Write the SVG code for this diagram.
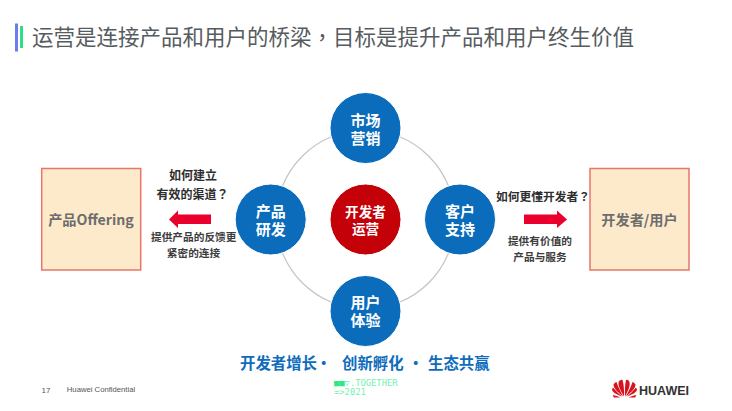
<svg xmlns="http://www.w3.org/2000/svg" width="732" height="411" viewBox="0 0 732 411">
<style>
text{font-family:"Noto Sans CJK SC","Liberation Sans",sans-serif;text-anchor:middle}
.hub{fill:#0a6cba;stroke:#fff;stroke-width:1}
.hubt{fill:#fff;font-size:15px;font-weight:700}
.midt{fill:#fff;font-size:13.600px;font-weight:700}
.box{fill:#fdeacb;stroke:#e8746c;stroke-width:1.5}
.boxt{fill:#6d6d6d;font-size:14.200px;font-weight:700}
.q{fill:#2e2e2e;font-size:12px;font-weight:700}
.qr{font-size:11.750px}
.a{fill:#3d3d3d;font-size:10.700px;font-weight:700}
.arrow{fill:#e9002c}
.ring{fill:none;stroke:#c4c4c4;stroke-width:1.2}
.tc{font-family:"Noto Sans CJK TC",sans-serif}
.tag{fill:#0e6cbc;font-size:15.400px;font-weight:700;text-anchor:start}
.foot{font-family:"Liberation Sans",sans-serif;fill:#555}
.dev{font-family:"DejaVu Sans Mono",monospace;font-size:8.800px;fill:#72f2b2;text-anchor:start}
</style>
<rect width="732" height="411" fill="#fff"/>
<g id="title">
<rect x="15" y="23.500" width="3" height="28" fill="#6a7cf0"/>
<rect x="20" y="26" width="3" height="22" fill="#2fdc8a"/>
<text x="32" y="45" style="text-anchor:start;font-size:21.500px" fill="#565b60">运营是连接产品和用户的桥梁<tspan class="tc">，</tspan>目标是提升产品和用户终生价值</text>
</g>
<g id="connectors">
<circle class="ring" cx="365.500" cy="219.500" r="89.500"/>
<path class="arrow" d="M211 214.500H178V210.500L169 219.500L178 228V224H211Z"/>
<path class="arrow" d="M524 214.500H557V210.500L567 219.500L557 228V224H524Z"/>
</g>
<g id="node-market"><circle class="hub" cx="365.500" cy="128" r="35.500"/><text class="hubt"><tspan x="365.500" y="125.500">市场</tspan><tspan x="365.500" y="144">营销</tspan></text></g>
<g id="node-product"><circle class="hub" cx="270.700" cy="219.500" r="35.500"/><text class="hubt"><tspan x="270.700" y="216.500">产品</tspan><tspan x="270.700" y="235">研发</tspan></text></g>
<g id="node-support"><circle class="hub" cx="460" cy="219.500" r="35.500"/><text class="hubt"><tspan x="460" y="216.500">客户</tspan><tspan x="460" y="235">支持</tspan></text></g>
<g id="node-ux"><circle class="hub" cx="365.500" cy="311" r="35.500"/><text class="hubt"><tspan x="365.500" y="307.500">用户</tspan><tspan x="365.500" y="326">体验</tspan></text></g>
<g id="node-center"><circle cx="365.500" cy="219.500" r="35.500" fill="#c40009" stroke="#fff"/><text class="midt"><tspan x="365.500" y="217">开发者</tspan><tspan x="365.500" y="233.500">运营</tspan></text></g>
<g id="node-offering"><rect class="box" x="41.700" y="168.500" width="99" height="101.500"/><text class="boxt" x="91" y="224.500">产品Offering</text></g>
<g id="node-dev"><rect class="box" x="590" y="168.500" width="99" height="101.500"/><text class="boxt" x="639.500" y="224.500">开发者/用户</text></g>
<g id="labels">
<text class="q"><tspan x="193" y="180">如何建立</tspan><tspan x="192.500" y="198.500">有效的渠道<tspan class="tc">？</tspan></tspan></text>
<text class="a"><tspan x="193.700" y="241">提供产品的反馈更</tspan><tspan x="193.500" y="257">紧密的连接</tspan></text>
<text class="q qr" x="543" y="200.500">如何更懂开发者<tspan class="tc">？</tspan></text>
<text class="a"><tspan x="540" y="245">提供有价值的</tspan><tspan x="540" y="261">产品与服务</tspan></text>
<text class="tag" y="368.500"><tspan x="240">开发者增长</tspan><tspan x="316">·</tspan><tspan x="342">创新孵化</tspan><tspan x="408">·</tspan><tspan x="428">生态共赢</tspan></text>
</g>
<g id="footer">
<text class="foot" x="46" y="393" style="font-size:8px">17</text>
<text class="foot" x="101" y="392" style="font-size:7.700px">Huawei Confidential</text>
<text class="dev"><tspan x="334" y="386"><tspan fill="#2fe884">■■</tspan>▽.TOGETHER</tspan><tspan x="334" y="395">=&gt;2021</tspan></text>
</g>
<g id="logo">
<g fill="#d9121f">
<path d="M624 396.500C621 391 617 385 619 381C621 380 622 379.500 622.500 380C624 385 624.200 391 624 396.500Z"/>
<path d="M625 396.500C628 391 631 385 629 381C628 380 626.500 379.500 626 380C624.800 385 624.800 391 625 396.500Z"/>
<path d="M623 396.500C619 393 613.500 389 613.500 384.500C614 383.500 615.500 382 616.500 382C618 387 621 392 623 396.500Z"/>
<path d="M626 396.500C630 393 635.500 389 635.500 384.500C635 383.500 633.500 382 632.500 382C631 387 628 392 626 396.500Z"/>
<path d="M622 396.500C618 395 613 393 612 390C612.200 389 612.500 388 613 387.500C616 391 619 394 622 396.500Z"/>
<path d="M627 396.500C631 395 636 393 637 390C636.800 389 636.500 388 636 387.500C633 391 630 394 627 396.500Z"/>
<path d="M620.500 397.500H614C613.500 397 613 396 612.800 395C615.500 395.500 618 396.500 620.500 397.500Z"/>
<path d="M628.500 397.500H635C635.500 397 636 396 636.200 395C633.500 395.500 631 396.500 628.500 397.500Z"/>
</g>
<text x="664" y="394.500" style="font-family:'Liberation Sans',sans-serif;font-size:12px;font-weight:700" fill="#333" textLength="50" lengthAdjust="spacingAndGlyphs">HUAWEI</text>
</g>
</svg>
